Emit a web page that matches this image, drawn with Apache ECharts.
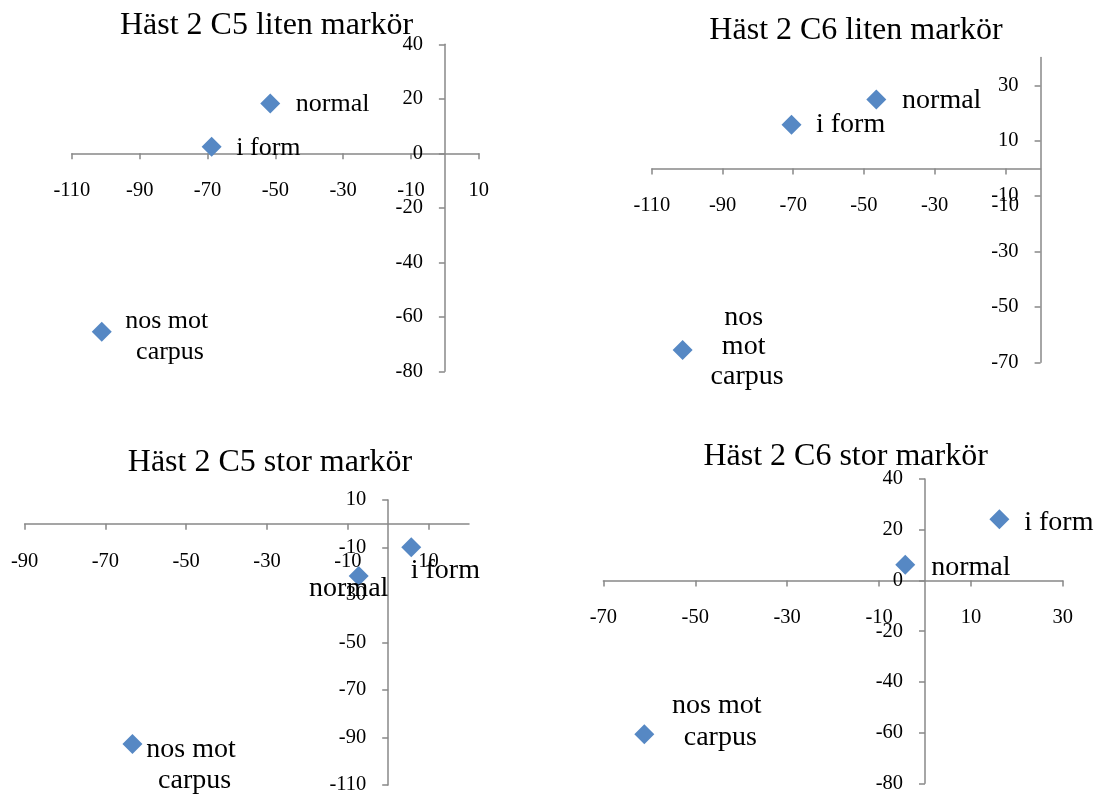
<!DOCTYPE html>
<html>
<head>
<meta charset="utf-8">
<script src="https://cdn.jsdelivr.net/npm/echarts@6/dist/echarts.min.js"></script>
<style>
html,body{margin:0;padding:0;background:#fff;}
#chart{width:1097px;height:794px;}
</style>
</head>
<body>
<div id="chart"></div>
<script>
// ---- data ----
const chartTitles = ['Häst 2 C5 liten markör', 'Häst 2 C6 liten markör', 'Häst 2 C5 stor markör', 'Häst 2 C6 stor markör'];
const pointNames = ['normal', 'i form', 'nos mot carpus'];

const c5LitenX = [-51.5, -68.8, -101.2];
const c5LitenY = [18.3, 2.4, -65.5];
const c6LitenX = [-46.5, -70.5, -101.3];
const c6LitenY = [24.9, 15.8, -65.6];
const c5StorX = [-7.3, 5.7, -63.3];
const c5StorY = [-22.0, -9.9, -92.7];
const c6StorX = [-4.3, 16.2, -61.1];
const c6StorY = [6.2, 24.1, -60.7];

const xRange1 = [-110, 10], yRange1 = [-80, 40];
const xRange2 = [-110, 0], yRange2 = [-70, 40];
const xRange3 = [-90, 20], yRange3 = [-110, 10];
const xRange4 = [-70, 30], yRange4 = [-80, 40];

const xTicks1 = [-110, -90, -70, -50, -30, -10, 10];
const yTicks1 = [-80, -60, -40, -20, 0, 20, 40];
const xTicks2 = [-110, -90, -70, -50, -30, -10];
const yTicks2 = [-70, -50, -30, -10, 10, 30];
const xTicks3 = [-90, -70, -50, -30, -10, 10];
const yTicks3 = [-110, -90, -70, -50, -30, -10, 10];
const xTicks4 = [-70, -50, -30, -10, 10, 30];
const yTicks4 = [-80, -60, -40, -20, 0, 20, 40];

// ---- layout / style ----
const FONT = 'Liberation Serif, Times New Roman, serif';
const AXIS_COLOR = '#888888';
const MARKER_COLOR = '#5688C4';

const panels = [
  { xs: c5LitenX, ys: c5LitenY, xr: xRange1, yr: yRange1, xt: xTicks1, yt: yTicks1,
    grid: { left: 71.9, top: 44.3, width: 406.9, height: 327 },
    title: { x: 266.6, cy: 25.5 }, labelSize: 26,
    place: [ { align: 'left', dx: 25.6, dy: 1 }, { align: 'left', dx: 24.7, dy: 1 },
             { align: 'center', dx: 68.3, dy: 4.5, width: 95, lh: 31 } ] },
  { xs: c6LitenX, ys: c6LitenY, xr: xRange2, yr: yRange2, xt: xTicks2, yt: yTicks2,
    grid: { left: 651.9, top: 57.6, width: 388.7, height: 304.7 },
    title: { x: 856, cy: 30.8 }, labelSize: 28,
    place: [ { align: 'left', dx: 25.8, dy: 1.4 }, { align: 'left', dx: 24.5, dy: 0 },
             { align: 'center', dx: 64.5, dy: -3, width: 80, lh: 29.5 } ] },
  { xs: c5StorX, ys: c5StorY, xr: xRange3, yr: yRange3, xt: xTicks3, yt: yTicks3,
    grid: { left: 24.6, top: 500, width: 444.4, height: 285 },
    title: { x: 270, cy: 463 }, labelSize: 28,
    place: [ { align: 'center', dx: -10, dy: 13 }, { align: 'left', dx: -0.5, dy: 23 },
             { align: 'center', dx: 58.6, dy: 21.5, width: 95, lh: 30.6 } ] },
  { xs: c6StorX, ys: c6StorY, xr: xRange4, yr: yRange4, xt: xTicks4, yt: yTicks4,
    grid: { left: 603.4, top: 479, width: 459.4, height: 304.3 },
    title: { x: 845.6, cy: 457 }, labelSize: 28,
    place: [ { align: 'left', dx: 25.9, dy: 2.5 }, { align: 'left', dx: 24.8, dy: 3 },
             { align: 'center', dx: 72.5, dy: -12.5, width: 95, lh: 31.5 } ] }
];

const TITLE_LH = 36;
const TICK_FONT = 20.5;

const option = {
  backgroundColor: '#ffffff',
  animation: false,
  title: panels.map((p, i) => ({
    text: chartTitles[i],
    left: p.title.x,
    top: p.title.cy - TITLE_LH / 2,
    textAlign: 'center',
    padding: 0,
    textStyle: { fontFamily: FONT, fontSize: 32, fontWeight: 'normal', color: '#000', lineHeight: TITLE_LH }
  })),
  grid: panels.map(p => Object.assign({ containLabel: false, outerBoundsMode: 'none' }, p.grid)),
  xAxis: panels.map((p, i) => ({
    gridIndex: i, type: 'value', min: p.xr[0], max: p.xr[1], interval: 20,
    position: 'bottom',
    // move the axis up to where y = 0
    offset: -(0 - p.yr[0]) / (p.yr[1] - p.yr[0]) * p.grid.height,
    axisLine: { show: true, onZero: false, lineStyle: { color: AXIS_COLOR, width: 1.5 } },
    axisTick: { show: true, length: 6, customValues: p.xt, lineStyle: { color: AXIS_COLOR, width: 1.5 } },
    axisLabel: { show: true, margin: 27, customValues: p.xt, fontFamily: FONT, fontSize: TICK_FONT, color: '#000' },
    splitLine: { show: false }
  })),
  yAxis: panels.map((p, i) => ({
    gridIndex: i, type: 'value', min: p.yr[0], max: p.yr[1], interval: 20,
    position: 'left',
    // move the axis right to where x = 0
    offset: -(0 - p.xr[0]) / (p.xr[1] - p.xr[0]) * p.grid.width,
    axisLine: { show: true, onZero: false, lineStyle: { color: AXIS_COLOR, width: 1.5 } },
    axisTick: { show: true, length: 6, customValues: p.yt, lineStyle: { color: AXIS_COLOR, width: 1.5 } },
    axisLabel: { show: true, margin: 22, customValues: p.yt, fontFamily: FONT, fontSize: TICK_FONT, color: '#000' },
    splitLine: { show: false }
  })),
  series: panels.map((p, i) => ({
    type: 'scatter',
    xAxisIndex: i, yAxisIndex: i,
    symbol: 'diamond',
    symbolSize: 20,
    itemStyle: { color: MARKER_COLOR, opacity: 1 },
    emphasis: { disabled: true },
    data: pointNames.map((name, k) => {
      const pl = p.place[k];
      const label = {
        show: true,
        position: 'inside',
        offset: [pl.dx, pl.dy],
        align: pl.align,
        verticalAlign: 'middle',
        formatter: '{b}',
        fontFamily: FONT,
        fontSize: p.labelSize,
        color: '#000',
        opacity: 1,
        textBorderWidth: 0
      };
      if (pl.width) { label.width = pl.width; label.overflow = 'break'; label.lineHeight = pl.lh; }
      return { name: name, value: [p.xs[k], p.ys[k]], label: label };
    })
  }))
};

const chart = echarts.init(document.getElementById('chart'), null, { renderer: 'canvas' });
chart.setOption(option);
</script>
</body>
</html>
